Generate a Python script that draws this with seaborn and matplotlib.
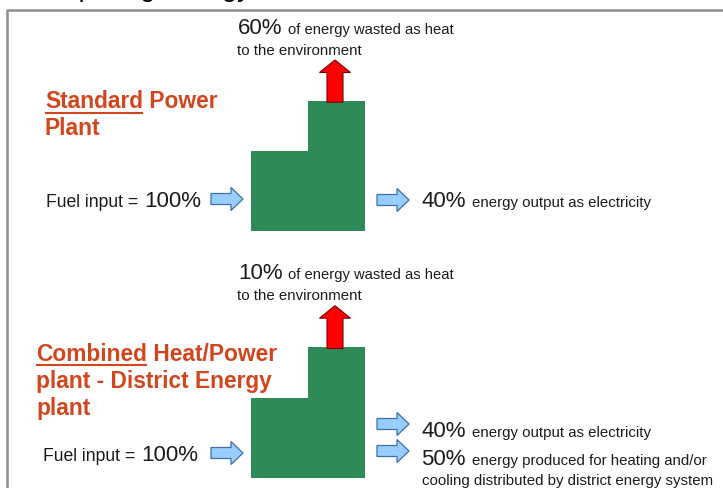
import matplotlib
matplotlib.use("Agg")
import matplotlib.pyplot as plt
import seaborn as sns

# ---- data ----
plant_titles = [["Standard", " Power", "Plant"],
                ["Combined", " Heat/Power", "plant - District Energy", "plant"]]
fuel_input = [100, 100]
heat_wasted = [60, 10]
electricity = [40, 40]
heat_useful = [None, 50]
wasted_text = "of energy wasted as heat"
wasted_text2 = "to the environment"
elec_text = "energy output as electricity"
useful_text = ["energy produced for heating and/or",
               "cooling distributed by district energy system"]

sns.set_theme(style="white")
plt.rcParams["font.family"] = ["Liberation Sans", "DejaVu Sans"]

W, H = 723, 488
fig = plt.figure(figsize=(W / 100, H / 100), dpi=100)
ax = fig.add_axes([0, 0, 1, 1])
ax.set_xlim(0, W)
ax.set_ylim(H, 0)
ax.axis("off")

RED = "#D2461E"
TXT = "#1c1c1c"
GREEN = "#2E8B57"
BLUE_F = "#99CCFF"
BLUE_E = "#3D6FA8"
PCT = 16

# cropped page title and frame
ax.text(20, -4.2, "Comparing Energy", fontsize=20, color="black", va="baseline", ha="left")
ax.plot([6, W], [10, 10], color="#8f8f8f", lw=1.8, solid_capstyle="butt")
ax.plot([7, 7], [10, H], color="#8f8f8f", lw=1.8, solid_capstyle="butt")


def blue_arrow(x0, x1, yc):
    ax.arrow(x0, yc, x1 - x0, 0, width=11, head_width=23, head_length=12,
             length_includes_head=True, fc=BLUE_F, ec=BLUE_E, lw=0.9, zorder=3)


def red_arrow(xc, ybase, ytip):
    ax.arrow(xc, ybase, 0, ytip - ybase, width=16, head_width=31, head_length=12.5,
             length_includes_head=True, fc="#FF0000", ec="#7a0000", lw=0.8, zorder=3)


panels = [
    dict(top=100.7, step=150.7, bottom=231, tip=60, pct_y=34, env_y=55,
         title_y=[108, 135], ul_y=113.3, title_x=45, fuel_y=207, fuel_x=46,
         in_y=199, out_y=[200], out_txt_y=[206.7]),
    dict(top=347, step=397.7, bottom=477.7, tip=305.7, pct_y=279, env_y=300,
         title_y=[361, 388, 415], ul_y=364.5, title_x=36, fuel_y=460.7, fuel_x=43,
         in_y=453, out_y=[424, 451], out_txt_y=[436.7, 465]),
]

for i, p in enumerate(panels):
    # green stepped block (two bars)
    ax.bar(250.7, p["bottom"] - p["step"], width=365 - 250.7, bottom=p["step"],
           align="edge", color=GREEN, edgecolor="none", zorder=2)
    ax.bar(308, p["bottom"] - p["top"], width=365 - 308, bottom=p["top"],
           align="edge", color=GREEN, edgecolor="none", zorder=2)
    # wasted heat arrow and text
    red_arrow(335, p["top"] + 1.5, p["tip"])
    ax.text(238, p["pct_y"], f"{heat_wasted[i]}%", fontsize=PCT, color=TXT, va="baseline")
    ax.text(288, p["pct_y"], wasted_text, fontsize=10.6, color=TXT, va="baseline")
    ax.text(237, p["env_y"], wasted_text2, fontsize=10.8, color=TXT, va="baseline")
    # title
    t = plant_titles[i]
    tx = p["title_x"]
    t1 = ax.text(tx, p["title_y"][0], t[0], fontsize=16.4, fontweight="bold",
                 color=RED, va="baseline")
    fig.canvas.draw()
    bb = t1.get_window_extent().transformed(ax.transData.inverted())
    ax.text(bb.x1, p["title_y"][0], t[1], fontsize=16.4, fontweight="bold",
            color=RED, va="baseline")
    ax.plot([tx, bb.x1], [p["ul_y"], p["ul_y"]], color=RED, lw=1.5, solid_capstyle="butt")
    for k, line in enumerate(t[2:]):
        ax.text(tx, p["title_y"][k + 1], line, fontsize=16.4, fontweight="bold",
                color=RED, va="baseline")
    # fuel input
    ax.text(p["fuel_x"], p["fuel_y"], "Fuel input =", fontsize=12.7, color=TXT, va="baseline")
    ax.text(p["fuel_x"] + 98, p["fuel_y"], f"{fuel_input[i]}%", fontsize=PCT, color=TXT,
            va="baseline")
    blue_arrow(211, 243, p["in_y"])
    # outputs
    outs = [(electricity[i], elec_text)]
    if heat_useful[i] is not None:
        outs.append((heat_useful[i], useful_text[0]))
    for k, (val, txt) in enumerate(outs):
        blue_arrow(377, 409, p["out_y"][k])
        ax.text(421.5, p["out_txt_y"][k], f"{val}%", fontsize=PCT, color=TXT, va="baseline")
        ax.text(471.5, p["out_txt_y"][k], txt, fontsize=10.8, color=TXT, va="baseline")
    if heat_useful[i] is not None:
        ax.text(421.5, 485, useful_text[1], fontsize=10.8, color=TXT, va="baseline")

fig.savefig("out.png", dpi=100)
